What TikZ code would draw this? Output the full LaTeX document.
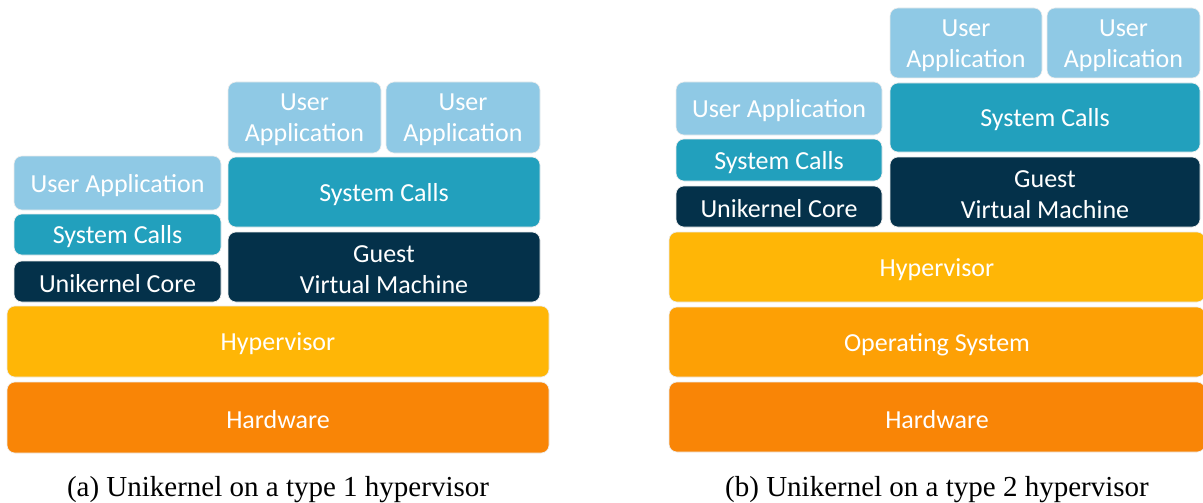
\documentclass[tikz,border=0pt]{standalone}
\usepackage{fontspec}
\setmainfont{Liberation Serif}
\newfontfamily\boxfont{Carlito}
\definecolor{appblue}{HTML}{8FC9E5}
\definecolor{calltea}{HTML}{22A0BD}
\definecolor{corenavy}{HTML}{04314A}
\definecolor{hypyel}{HTML}{FFB606}
\definecolor{osorange}{HTML}{FDA005}
\definecolor{hworange}{HTML}{F98506}
\tikzset{
  layer/.style={rounded corners=8pt, draw=white!85!gray, line width=0.6pt,
    inner sep=0pt, outer sep=0pt, anchor=north west},
  layertext/.style={inner sep=0pt, align=center, text=white,
    font=\boxfont\fontsize{26}{31}\selectfont},
  caption/.style={font=\fontsize{29}{32}\selectfont, text=black}
}
% box from its top-left corner, width and height, with its label set a little low
\newcommand{\layerbox}[7]{%
  \node[layer, fill=#1, minimum width=#4pt, minimum height=#5pt] (#6) at (#2,#3) {};
  \node[layertext] (#6-text) at ([yshift=-2.5pt]#6.center) {#7};}
\begin{document}
\begin{tikzpicture}[x=1pt,y=-1pt]
\useasboundingbox (0,0) rectangle (1203,503);
% ---- (a) type 1 hypervisor ----
\layerbox{appblue}{228}{82}{153}{71}{uaoneA}{User\\Application}
\layerbox{appblue}{386}{82}{154}{71}{uatwoA}{User\\Application}
\layerbox{appblue}{14}{156}{207}{54}{uniappA}{User Application}
\layerbox{calltea}{14}{214}{207}{41}{unicallA}{System Calls}
\layerbox{corenavy}{14}{261}{207}{41}{unicoreA}{Unikernel Core}
\layerbox{calltea}{228}{157}{312}{70}{vmcallA}{System Calls}
\layerbox{corenavy}{228}{232}{312}{70}{guestA}{Guest\\Virtual Machine}
\layerbox{hypyel}{7}{306}{542}{71}{hypA}{Hypervisor}
\layerbox{hworange}{7}{382}{542}{71}{hwA}{Hardware}
\node[caption] (capA) at (278,489.5) {(a) Unikernel on a type 1 hypervisor};
% ---- (b) type 2 hypervisor ----
\layerbox{appblue}{890}{8}{152}{70}{uaoneB}{User\\Application}
\layerbox{appblue}{1047}{8}{153}{70}{uatwoB}{User\\Application}
\layerbox{appblue}{676}{82}{206}{53}{uniappB}{User Application}
\layerbox{calltea}{676}{139}{206}{42}{unicallB}{System Calls}
\layerbox{corenavy}{676}{186}{206}{41}{unicoreB}{Unikernel Core}
\layerbox{calltea}{890}{83}{310}{69}{vmcallB}{System Calls}
\layerbox{corenavy}{890}{157}{310}{70}{guestB}{Guest\\Virtual Machine}
\layerbox{hypyel}{669}{232}{536}{70}{hypB}{Hypervisor}
\layerbox{osorange}{669}{307}{536}{70}{osB}{Operating System}
\layerbox{hworange}{669}{382}{536}{70}{hwB}{Hardware}
\node[caption] (capB) at (937,489.5) {(b) Unikernel on a type 2 hypervisor};
\end{tikzpicture}
\end{document}
